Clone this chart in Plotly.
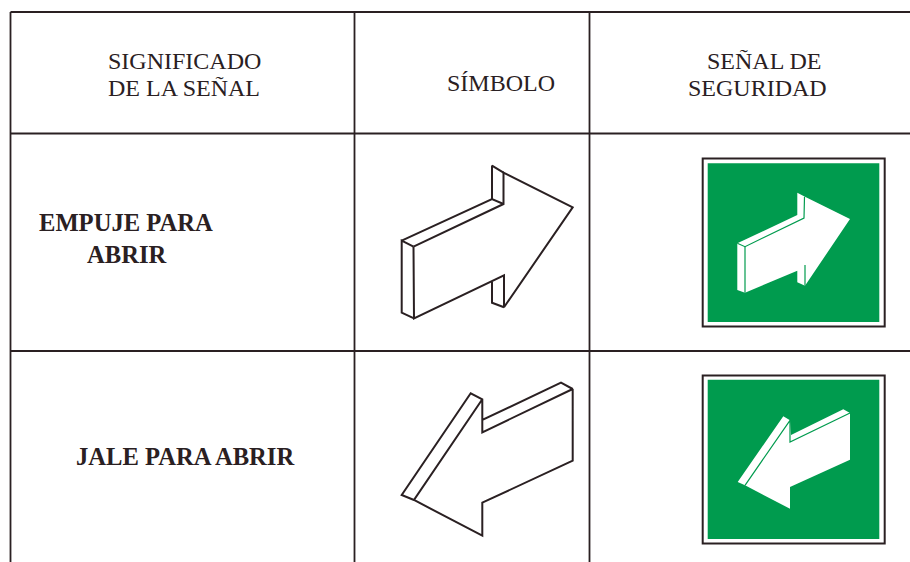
import plotly.graph_objects as go

W, H = 910, 562
INK = "#2a2022"
GREEN = "#009B4E"

# Table rules
grid_vertical_x = [10.5, 354.5, 589.5]
grid_horizontal_y = [12, 133.5, 351]

# Text: label, centre x, centre y, bold
labels = ["SIGNIFICADO", "DE LA SEÑAL", "SÍMBOLO", "SEÑAL DE", "SEGURIDAD",
          "EMPUJE PARA", "ABRIR", "JALE PARA ABRIR"]
label_x = [184, 184, 501, 764, 757.5, 126, 126.5, 184.5]
label_y = [61, 88, 83, 61, 88, 222.5, 254.5, 456.5]
label_size = [24, 24, 24, 24, 24, 24.6, 24.6, 24.6]
label_bold = [False, False, False, False, False, True, True, True]

# Symbol: right arrow
right_front_x = [413.5, 503.5, 503.5, 572.7, 504, 504, 414]
right_front_y = [246.7, 204, 172.7, 207.3, 307.3, 275.3, 318.3]
right_side_x = [414, 401.7, 401.7, 413.5]
right_side_y = [318.3, 312.7, 240.7, 246.7]
right_top_x = [401.7, 492, 503.5]
right_top_y = [240.7, 199, 204]
right_head_x = [492, 492, 503.5]
right_head_y = [199, 165.7, 172.7]
right_notch_x = [492, 492, 504]
right_notch_y = [281.7, 302.7, 307.3]

# Symbol: left arrow
left_x = [572.7, 572.7, 482.3, 482.3, 414, 482.3, 482.3, 572.7, 561, 482.3, 482.3, 470.7, 401.7, 414]
left_y = [389, 460.7, 502.7, 535.7, 500, 399.3, 432.3, 389, 382.7, 420, 399.3, 393.3, 495, 500]

# Safety sign frames
frame_x = [701.7, 885.7]
frame_top_y = [157.5, 327.5]
frame_bottom_y = [374.5, 544.5]
panel_x = [707.7, 879.3]
panel_top_y = [163.3, 322]
panel_bottom_y = [379.7, 539]

# Sign: right arrow
sign_r_x = [737.3, 797.3, 797.3, 805, 850, 805, 797.3, 797.3, 745, 737.3]
sign_r_y = [243.3, 215, 192.7, 196.7, 219, 285.7, 282.3, 270.7, 292.7, 290]
sign_r_line1_x = [745, 745]
sign_r_line1_y = [246.7, 292.7]
sign_r_line2_x = [737.3, 745, 804, 804.5]
sign_r_line2_y = [243.3, 246.7, 218, 196.7]
sign_r_line3_x = [805, 805]
sign_r_line3_y = [265, 285.7]

# Sign: left arrow
sign_l_x = [850, 850, 790, 790, 745, 737.7, 783.3, 790, 791, 843.3, 850]
sign_l_y = [413, 459.7, 487, 508.7, 485.3, 482, 416.3, 420.3, 435, 409.3, 413]
sign_l_line_x = [745, 790, 790, 850]
sign_l_line_y = [485.3, 420.3, 442, 413]

fig = go.Figure()


def poly(x, y, fill=None, color=INK, width=2.0, closed=False):
    xs, ys = list(x), list(y)
    if closed:
        xs.append(xs[0])
        ys.append(ys[0])
    fig.add_trace(go.Scatter(
        x=xs, y=ys, mode="lines",
        line=dict(color=color, width=width, simplify=False),
        fill="toself" if fill else "none", fillcolor=fill,
        hoverinfo="skip", showlegend=False))


def rect(x, y, fill):
    poly([x[0], x[1], x[1], x[0]], [y[0], y[0], y[1], y[1]], fill=fill, width=0, closed=True)


for gx in grid_vertical_x:
    poly([gx, gx], [grid_horizontal_y[0], H], width=1.8)
for gy in grid_horizontal_y:
    poly([grid_vertical_x[0], W], [gy, gy], width=1.8)

# Symbols
poly(right_front_x, right_front_y, width=2.0, closed=True)
poly(right_side_x, right_side_y, width=2.0)
poly(right_top_x, right_top_y, width=2.0)
poly(right_head_x, right_head_y, width=2.0)
poly(right_notch_x, right_notch_y, width=2.0)
poly(left_x, left_y, width=2.0)

# Signs
for fy, py in ((frame_top_y, panel_top_y), (frame_bottom_y, panel_bottom_y)):
    rect(frame_x, fy, INK)
    rect([frame_x[0] + 2, frame_x[1] - 2], [fy[0] + 2, fy[1] - 2], "white")
    rect(panel_x, py, GREEN)

poly(sign_r_x, sign_r_y, fill="white", width=0, closed=True)
poly(sign_r_line1_x, sign_r_line1_y, color=GREEN, width=1.2)
poly(sign_r_line2_x, sign_r_line2_y, color=GREEN, width=1.2)
poly(sign_r_line3_x, sign_r_line3_y, color=GREEN, width=1.2)
poly(sign_l_x, sign_l_y, fill="white", width=0, closed=True)
poly(sign_l_line_x, sign_l_line_y, color=GREEN, width=1.2)

annotations = [
    dict(x=x, y=y, text=f"<b>{t}</b>" if b else t, showarrow=False,
         xanchor="center", yanchor="middle",
         font=dict(family="Liberation Serif", size=s, color=INK))
    for t, x, y, s, b in zip(labels, label_x, label_y, label_size, label_bold)
]

fig.update_layout(
    width=W, height=H, margin=dict(l=0, r=0, t=0, b=0),
    paper_bgcolor="white", plot_bgcolor="white", showlegend=False,
    annotations=annotations,
    xaxis=dict(range=[0, W], visible=False, fixedrange=True),
    yaxis=dict(range=[H, 0], visible=False, fixedrange=True),
)
fig.write_html("out.html", config=dict(displayModeBar=False),
               post_script="document.body.style.margin='0';document.body.style.overflow='hidden';")
